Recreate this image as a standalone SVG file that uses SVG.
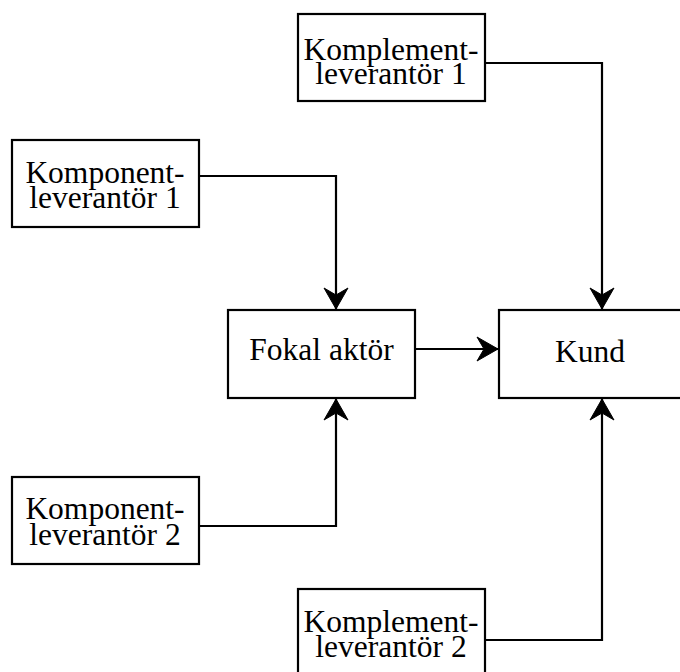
<svg xmlns="http://www.w3.org/2000/svg" width="680" height="672" viewBox="0 0 680 672">
<style>
  .box { fill: #ffffff; stroke: #000000; stroke-width: 2.2; }
  .lbl { font-family: "Liberation Serif", "Times New Roman", serif; font-size: 31.5px; fill: #000000; text-anchor: middle; }
  .conn { fill: none; stroke: #000000; stroke-width: 2.2; }
</style>
<defs>
  <marker id="arrow" markerUnits="userSpaceOnUse" markerWidth="26" markerHeight="28" viewBox="-23 -14 26 28" refX="0" refY="0" orient="auto">
    <path d="M0,0 L-21,-12 L-14,0 L-21,12 Z" fill="#000000" stroke="#000000" stroke-width="1" stroke-linejoin="miter"/>
  </marker>
</defs>
<rect width="680" height="672" fill="#ffffff"/>
<g id="connectors">
  <path class="conn" d="M485,63 H602 V309" marker-end="url(#arrow)"/>
  <path class="conn" d="M199,176 H336 V309" marker-end="url(#arrow)"/>
  <path class="conn" d="M415,349 H498" marker-end="url(#arrow)"/>
  <path class="conn" d="M199,526 H336 V399" marker-end="url(#arrow)"/>
  <path class="conn" d="M485,640 H602 V399" marker-end="url(#arrow)"/>
</g>
<g id="komplement1">
  <rect class="box" x="298" y="14" width="187" height="87"/>
  <text class="lbl" x="391" y="60">Komplement-</text>
  <text class="lbl" x="391" y="84">leverantör 1</text>
</g>
<g id="komponent1">
  <rect class="box" x="12" y="140" width="187" height="87"/>
  <text class="lbl" x="105" y="183">Komponent-</text>
  <text class="lbl" x="105" y="208">leverantör 1</text>
</g>
<g id="fokal">
  <rect class="box" x="228" y="310" width="187" height="88"/>
  <text class="lbl" x="321.5" y="360">Fokal aktör</text>
</g>
<g id="kund">
  <rect class="box" x="499" y="310" width="187" height="88"/>
  <text class="lbl" x="590" y="362">Kund</text>
</g>
<g id="komponent2">
  <rect class="box" x="12" y="477" width="187" height="87"/>
  <text class="lbl" x="105" y="519">Komponent-</text>
  <text class="lbl" x="105" y="545">leverantör 2</text>
</g>
<g id="komplement2">
  <rect class="box" x="298" y="589" width="187" height="87"/>
  <text class="lbl" x="391" y="632">Komplement-</text>
  <text class="lbl" x="391" y="657">leverantör 2</text>
</g>
</svg>
